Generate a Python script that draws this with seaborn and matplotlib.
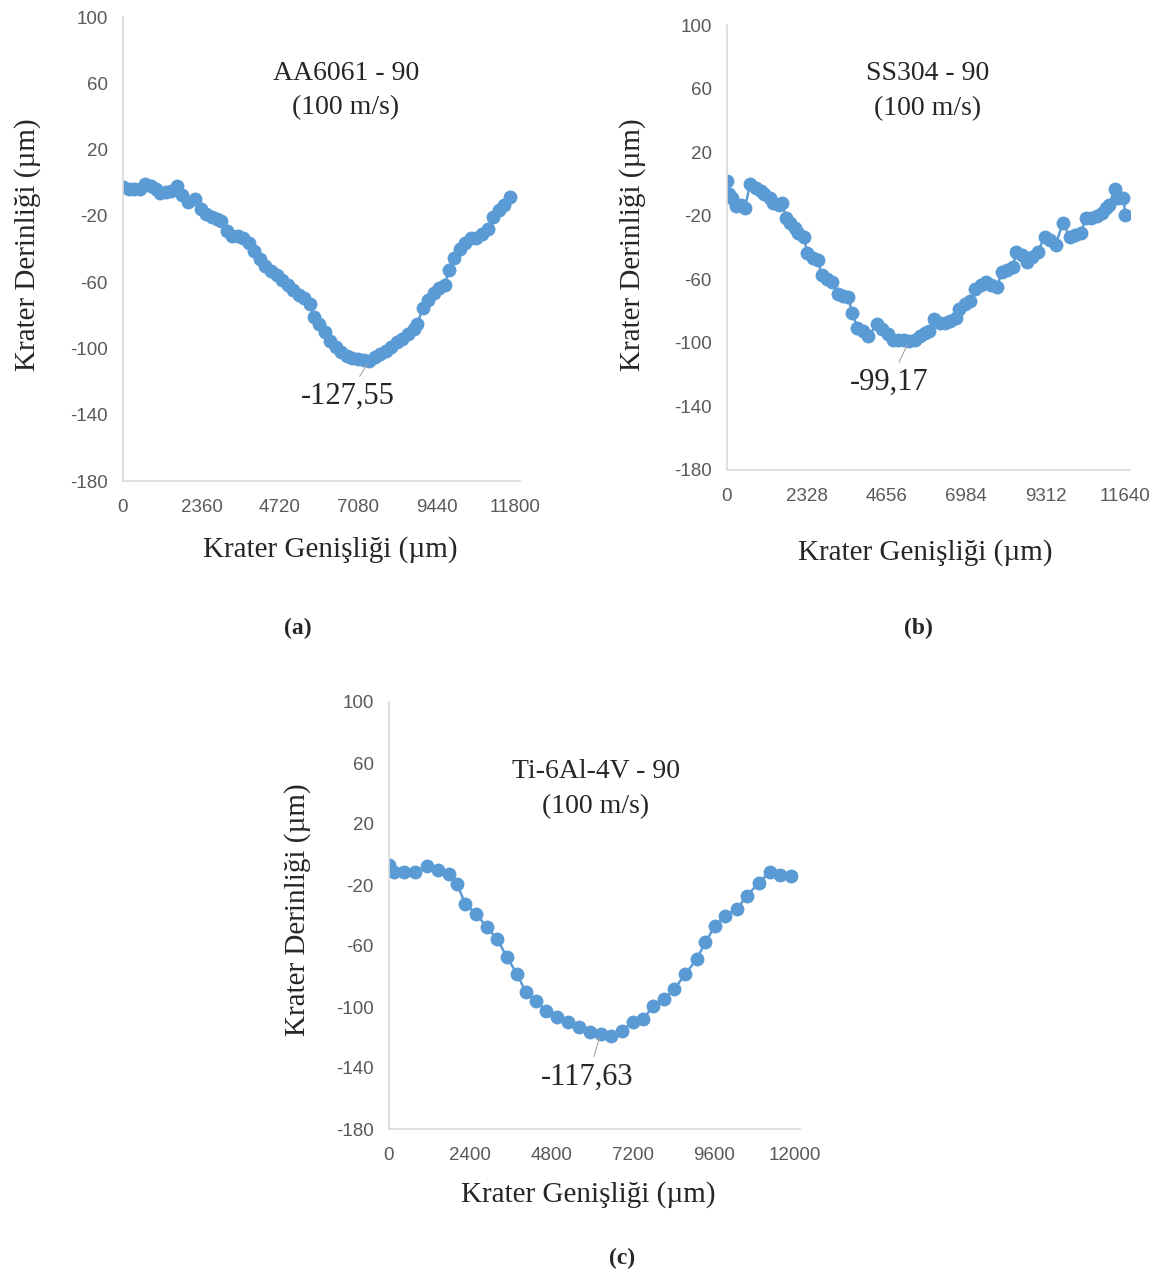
import numpy as np
import seaborn as sns
import matplotlib.pyplot as plt

# (a) AA6061 - 90
a_x = [0, 167, 334, 501, 668, 835, 1002, 1113, 1280, 1447, 1614, 1781, 1948, 2171, 2338, 2505,
       2672, 2839, 2950, 3117, 3284, 3451, 3618, 3785, 3952, 4119, 4286, 4453, 4620, 4787, 4954,
       5121, 5288, 5455, 5622, 5733, 5900, 6067, 6234, 6401, 6568, 6735, 6902, 7069, 7236, 7403,
       7570, 7737, 7904, 8071, 8238, 8405, 8572, 8739, 8850, 9017, 9184, 9351, 9518, 9685, 9796,
       9963, 10130, 10297, 10464, 10631, 10798, 10965, 11132, 11299, 11466, 11633]
a_y = [-2.4, -3.5, -3.5, -3.9, -1.0, -1.8, -3.5, -6.5, -5.5, -5.1, -2.0, -7.6, -11.6, -9.6, -15.7,
       -18.8, -20.8, -21.8, -22.9, -29.0, -32.0, -32.0, -33.1, -36.1, -41.2, -46.3, -50.4, -53.5,
       -55.5, -58.6, -61.6, -64.7, -67.8, -69.8, -72.9, -81.0, -85.1, -90.2, -95.3, -99.4, -102.4,
       -104.5, -105.9, -106.5, -107.1, -107.6, -105.1, -103.5, -101.4, -99.4, -96.3, -94.3, -91.2,
       -88.2, -85.1, -75.9, -70.8, -66.7, -63.7, -61.6, -52.4, -45.3, -40.2, -36.1, -33.1, -33.1,
       -31.0, -28.0, -20.8, -16.7, -13.7, -8.6]
a_ticks = [0, 2360, 4720, 7080, 9440, 11800]

# (b) SS304 - 90
b_x = [0, 52, 157, 261, 418, 522, 679, 835, 992, 1096, 1253, 1357, 1514, 1618, 1723, 1827, 1984,
       2088, 2245, 2349, 2506, 2662, 2767, 2923, 3080, 3236, 3393, 3550, 3654, 3811, 3967, 4124,
       4385, 4541, 4698, 4855, 5011, 5168, 5324, 5481, 5638, 5794, 5899, 6055, 6212, 6368, 6525,
       6682, 6786, 6943, 7099, 7256, 7412, 7569, 7726, 7882, 8039, 8195, 8352, 8456, 8613, 8770,
       8926, 9083, 9292, 9448, 9605, 9814, 10022, 10179, 10336, 10492, 10649, 10805, 10962, 11066,
       11171, 11327, 11432, 11588, 11641]
b_y = [1.9, -6.2, -8.7, -14.0, -13.4, -15.1, 0.2, -2.3, -4.5, -6.2, -8.7, -11.9, -13.0, -11.9,
       -21.4, -24.6, -27.8, -31.0, -33.1, -43.7, -46.9, -48.0, -57.5, -59.7, -61.8, -69.2, -70.3,
       -71.3, -80.9, -90.4, -92.6, -95.8, -88.3, -91.5, -94.7, -97.9, -97.9, -97.9, -98.9, -97.9,
       -95.8, -93.6, -92.6, -85.1, -87.3, -87.3, -86.2, -84.1, -78.8, -75.6, -73.5, -66.0, -63.9,
       -61.8, -63.9, -65.0, -55.4, -54.4, -52.2, -42.7, -44.8, -49.0, -45.9, -42.7, -33.1, -35.2,
       -38.4, -24.6, -33.1, -32.1, -31.0, -21.4, -21.4, -20.4, -18.3, -15.1, -13.0, -3.4, -8.7,
       -8.7, -19.3]
b_ticks = [0, 2328, 4656, 6984, 9312, 11640]

# (c) Ti-6Al-4V - 90
c_x = [0, 161, 451, 773, 1117, 1439, 1761, 2008, 2255, 2578, 2900, 3190, 3491, 3781, 4049, 4350,
       4640, 4962, 5284, 5606, 5928, 6251, 6573, 6874, 7196, 7518, 7808, 8130, 8431, 8753, 9097,
       9344, 9634, 9935, 10278, 10579, 10923, 11245, 11567, 11889]
c_y = [-6.9, -11.3, -11.3, -11.3, -7.8, -9.9, -12.8, -19.4, -32.5, -39.0, -47.8, -55.4, -67.4,
       -78.4, -90.4, -95.8, -102.4, -106.8, -110.1, -113.4, -116.6, -117.7, -118.8, -115.5, -110.1,
       -107.9, -99.1, -94.8, -88.2, -78.4, -68.5, -57.6, -46.7, -40.1, -35.7, -27.0, -18.7, -11.7,
       -13.4, -13.9]
c_ticks = [0, 2400, 4800, 7200, 9600, 12000]

y_ticks = [-180, -140, -100, -60, -20, 20, 60, 100]

sns.set_style("white")
plt.rcParams['font.family'] = ['Liberation Serif', 'DejaVu Serif']
plt.rcParams['axes.unicode_minus'] = False

W, H = 1165, 1271
fig = plt.figure(figsize=(W / 100, H / 100), dpi=100)

blue = "#5B9BD5"
serif = ['Liberation Serif', 'DejaVu Serif']


def px_text(x, y, s, **kw):
    fig.text(x / W, 1 - y / H, s, ha='center', va='center', **kw)


def panel(rect, xs, ys, ticks, title, pos, ann, ann_xy, ann_text_xy):
    ax = fig.add_axes(rect)
    sns.lineplot(x=xs, y=ys, ax=ax, color=blue, marker='o', markersize=10,
                 markeredgewidth=0, linewidth=1.8)
    ax.set_xlim(0, ticks[-1] * 1.012)
    ax.set_ylim(-180, 100)
    ax.set_xticks(ticks)
    ax.set_yticks(y_ticks)
    ax.set_xticklabels([str(t) for t in ticks])
    for s in ['top', 'right']:
        ax.spines[s].set_visible(False)
    for s in ['left', 'bottom']:
        ax.spines[s].set_color('#D9D9D9')
        ax.spines[s].set_linewidth(1.2)
    ax.tick_params(axis='both', length=0, labelsize=13.5, labelcolor='#595959')
    ax.tick_params(axis='x', pad=13)
    ax.tick_params(axis='y', pad=11)
    for lab in ax.get_xticklabels() + ax.get_yticklabels():
        lab.set_fontfamily('Liberation Sans')
    ax.annotate(ann, xy=ann_xy, xytext=ann_text_xy, ha='center', va='center', fontsize=22,
                family=serif,
                arrowprops=dict(arrowstyle='-', color='#A6A6A6', lw=0.8, shrinkA=2, shrinkB=3))
    tx, t1y, t2y, ylx, yly, xlx, xly = pos
    px_text(tx, t1y, title, fontsize=20, family=serif)
    px_text(tx, t2y, "(100 m/s)", fontsize=20, family=serif)
    px_text(ylx, yly, "Krater Derinliği (µm)", fontsize=21, rotation=90, family=serif)
    px_text(xlx, xly, "Krater Genişliği (µm)", fontsize=21, family=serif)
    return ax


panel([123 / W, 1 - 481 / H, 397 / W, 464 / H], a_x, a_y, a_ticks, "AA6061 - 90",
      (346, 73, 108, 28, 245, 330, 550), "-127,55", (7403, -107.6), (6750, -129))
panel([727 / W, 1 - 470 / H, 403 / W, 445 / H], b_x, b_y, b_ticks, "SS304 - 90",
      (928, 73, 109, 633, 245, 925, 553), "-99,17", (5324, -98.9), (4740, -125))
panel([389 / W, 1 - 1129 / H, 411 / W, 427 / H], c_x, c_y, c_ticks, "Ti-6Al-4V - 90",
      (596, 771, 807, 298, 910, 588, 1195), "-117,63", (6251, -117.7), (5870, -146))

px_text(298, 628, "(a)", fontsize=17, fontweight='bold', family=serif)
px_text(918, 628, "(b)", fontsize=17, fontweight='bold', family=serif)
px_text(622, 1258, "(c)", fontsize=17, fontweight='bold', family=serif)

fig.savefig("out.png", dpi=100, facecolor='white')
